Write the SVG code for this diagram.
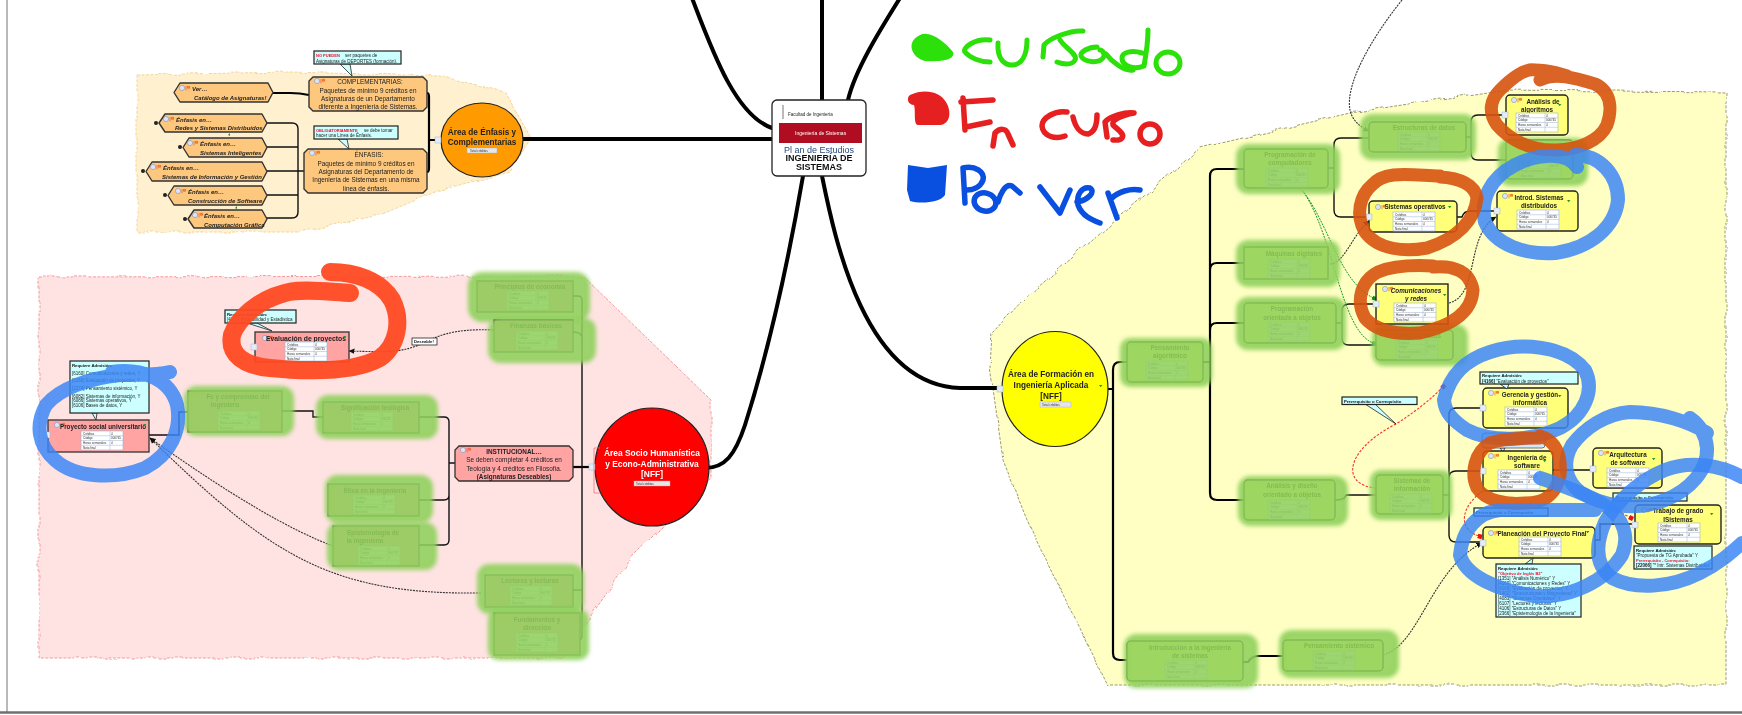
<svg xmlns="http://www.w3.org/2000/svg" width="1742" height="715" viewBox="0 0 1742 715">
<style>
text{font-family:"Liberation Sans","DejaVu Sans",sans-serif;fill:#222}
.n{font-size:6.4px;text-anchor:middle}
.nb{font-size:6.3px;font-weight:bold;text-anchor:middle;fill:#222}
.i{font-size:6px;font-style:italic;font-weight:bold}
.c{font-size:4.5px;fill:#222}
.cb{font-size:4.3px;font-weight:bold;fill:#111}
.r{font-size:4px;font-weight:bold;fill:#f01030}
.tt{font-size:3px;fill:#333}
.o{fill:#fdc77d;stroke:#333;stroke-width:1.4;stroke-linejoin:round}
.p{fill:#ffa3a3;stroke:#333;stroke-width:1.3}
.y{fill:#ffff7a;stroke:#222;stroke-width:1.4}
.co{fill:#ccffff;stroke:#222;stroke-width:1.2}
.g{fill:#8fd05c;fill-opacity:.88;stroke:#8fd05c;stroke-opacity:.88;stroke-width:4;filter:url(#soft)}
.h{fill:#e4ecf8;stroke:#9fb4d8;stroke-width:.5}
.ln{fill:none;stroke:#111;stroke-width:1.4;stroke-linecap:round}
.th{fill:none;stroke:#000;stroke-width:2.2}
.big{fill:none;stroke:#000;stroke-width:4;stroke-linecap:round}
.ds{fill:none;stroke:#333;stroke-width:1.1;stroke-dasharray:2 1}
.dg{fill:none;stroke:#1a9a30;stroke-width:1;stroke-dasharray:2 1}
.dr{fill:none;stroke:#f53030;stroke-width:1.1;stroke-dasharray:2.5 1.5}
.sb{fill:none;stroke:#3a86f5;stroke-width:14;stroke-linecap:round;stroke-linejoin:round;stroke-opacity:.84}
.so{fill:none;stroke:#d6530e;stroke-width:13;stroke-linecap:round;stroke-linejoin:round;stroke-opacity:.9}
.sr{fill:none;stroke:#ff4a22;stroke-width:18;stroke-linecap:round;stroke-linejoin:round;stroke-opacity:.95}
.wg{fill:none;stroke:#2ce00a;stroke-width:5;stroke-linecap:round;stroke-linejoin:round}
.wr{fill:none;stroke:#e62020;stroke-width:5.5;stroke-linecap:round;stroke-linejoin:round}
.wb{fill:none;stroke:#0a50e0;stroke-width:5.5;stroke-linecap:round;stroke-linejoin:round}
</style>
<defs>
<filter id="wavy" x="-5%" y="-5%" width="110%" height="110%"><feTurbulence type="fractalNoise" baseFrequency="0.07" numOctaves="1" seed="4"/><feDisplacementMap in="SourceGraphic" scale="6"/></filter>
<filter id="soft" x="-15%" y="-25%" width="130%" height="150%"><feGaussianBlur stdDeviation="2.2"/></filter>
<filter id="lite" x="-2%" y="-2%" width="104%" height="104%"><feGaussianBlur stdDeviation="0.3"/></filter>
<marker id="ab" markerWidth="6" markerHeight="6" refX="5" refY="3" orient="auto"><path d="M0,0.5L5.5,3L0,5.5z" fill="#111"/></marker>
<marker id="ag" markerWidth="5" markerHeight="5" refX="4" refY="2.5" orient="auto"><rect width="4" height="4" y="0.5" fill="#0a9020"/></marker>
<marker id="ar" markerWidth="5" markerHeight="5" refX="4" refY="2.5" orient="auto"><rect width="4" height="4" y="0.5" fill="#f01010"/></marker>
<g id="tbl"><rect width="42" height="19" fill="#fff" stroke="#9db2d0" stroke-width=".6"/><path d="M0,4.75H42M0,9.5H42M0,14.25H42M29,0V19" stroke="#9db2d0" stroke-width=".5"/><text class="tt" x="2" y="3.6">Créditos</text><text class="tt" x="2" y="8.4">Código</text><text class="tt" x="2" y="13.1">Horas semanales</text><text class="tt" x="2" y="17.9">Nota final</text><text class="tt" x="30" y="3.6">4</text><text class="tt" x="30" y="8.4">000745</text><text class="tt" x="30" y="13.1">4</text></g>
<g id="ic"><circle cx="3" cy="3" r="2.6" fill="#dde4f5" stroke="#8392b5" stroke-width=".6"/><path d="M7,1V5.4M8.4,1.4H10.6V3.2H8.4z" stroke="#e8442a" stroke-width=".6" fill="#f0a030"/></g>
<path id="tri" d="M0,0h3.4l-1.7,2.2z" fill="#1a9a30"/>
</defs>
<rect width="1742" height="715" fill="#fff"/>
<path d="M7,0V712" stroke="#8a8a8a" stroke-width="1.2"/>
<path d="M0,712.500H1742" stroke="#707070" stroke-width="2.400"/>

<g id="clouds">
<path filter="url(#wavy)" d="M137,75 L290,72 L440,76 L505,92 L531,138 L510,172 L440,190 L380,215 L300,232 L137,232Z" fill="#fff0cf" stroke="#f3d69a" stroke-width="1" stroke-dasharray="3 1.5"/>
<path filter="url(#wavy)" d="M39,277 L583,276 L711,400 L711,478 L633,556 L561,658 L39,658Z" fill="#ffe3e3" stroke="#f59a9a" stroke-width="1" stroke-dasharray="3 1.5"/>
<path filter="url(#wavy)" d="M1023,300 L1200,148 L1350,113 L1500,90 L1726,92 L1726,685 L1107,685 L1027,520 L1003,460 L990,367 L992,333Z" fill="#ffffc4" stroke="#9a9a70" stroke-width="1" stroke-dasharray="3 1.5"/>
</g>

<g id="connectors">
<path class="big" d="M692,-2C712,50 735,115 772,128"/>
<path class="big" d="M822,-2V100"/>
<path class="big" d="M900,-2C880,30 855,70 848,100"/>
<path class="big" d="M522,139H772"/>
<path class="big" d="M803,176C792,240 775,330 745,425C735,455 725,468 705,468"/>
<path class="big" d="M822,176C835,240 865,385 960,388H1002" stroke-width="3"/>
<path class="th" d="M427,93Q429,93 429,97V168Q429,172 427,172M429,140H441"/>
<path class="th" d="M273,93H290Q300,93 309,95"/>
<path class="ln" d="M267,123H292Q298,123 298,129V212Q298,218 292,218H267M267,147H298M267,171H304M267,195H298"/>
<path class="th" d="M573,467H582L595,467"/>
<path class="ln" d="M582,300Q582,296 578,296H573M582,300V636Q582,640 578,640H574M573,332Q582,332 582,338M573,590H582"/>
<path class="ln" d="M419,417H444Q449,417 449,422V540Q449,545 444,545H419M419,500H444Q449,500 449,495M449,463H455"/>
<path class="ln" d="M282,411H313V417H323M188,412H179V435H149"/>
<path class="th" d="M1108,389H1113M1113,370Q1113,362 1120,362H1127M1113,370V653Q1113,660 1120,660H1127"/>
<path class="th" d="M1203,362H1210M1210,176Q1210,169 1217,169H1244M1210,176V493Q1210,500 1217,500H1244M1210,270Q1210,263 1217,263H1244M1210,330Q1210,323 1217,323H1244"/>
<path class="ln" d="M1328,168H1334M1334,145Q1334,138 1341,138H1369M1334,145V210Q1334,217 1341,217H1369"/>
<path class="ln" d="M1336,323H1342M1342,311Q1342,304 1349,304H1376M1342,311V338Q1342,345 1349,345H1376"/>
<path class="ln" d="M1466,137H1471M1471,122Q1471,115 1478,115H1506M1471,122V153Q1471,160 1478,160H1506"/>
<path class="ln" d="M1457,217H1462Q1464,211 1470,211H1497"/>
<path class="ln" d="M1335,500Q1345,500 1346,495H1376"/>
<path class="ln" d="M1443,495H1449M1449,415Q1449,408 1456,408H1483M1449,415V535Q1449,542 1456,542H1483M1449,478Q1449,471 1456,471H1483"/>
<path class="ln" d="M1553,470H1593"/>
<path class="ln" d="M1595,540H1600V524H1635"/>
<path class="th" d="M1243,662H1248Q1252,656 1258,656H1283"/>
<path class="ds" marker-end="url(#ab)" d="M493,330C450,328 435,338 425,342C405,353 385,352 349,351"/>
<path class="ds" marker-end="url(#ab)" d="M333,546C290,530 230,495 150,438"/>
<path class="ds" marker-end="url(#ab)" d="M481,593C330,595 270,555 150,438"/>
<path class="ds" marker-end="url(#ab)" d="M1402,0C1370,40 1345,85 1350,110C1352,120 1360,127 1369,131"/>
<path class="ds" marker-end="url(#ab)" d="M1330,264C1345,263 1352,235 1369,221"/>
<path class="ds" marker-end="url(#ab)" d="M1449,303C1480,295 1465,235 1496,217"/>
<path class="ds" marker-end="url(#ab)" d="M1383,655C1420,645 1430,570 1482,543"/>
<path class="dg" marker-end="url(#ag)" d="M1302,190C1330,225 1340,285 1376,299"/>
<path class="dg" marker-end="url(#ag)" d="M1302,190C1335,235 1340,335 1376,344"/>
<path class="dr" marker-end="url(#ar)" d="M1376,488C1340,485 1345,450 1396,424C1415,412 1430,400 1445,385"/>
<path class="dr" marker-end="url(#ar)" d="M1483,491C1462,505 1455,530 1482,537"/>
<path class="dr" marker-end="url(#ar)" d="M1597,500L1633,519"/>
</g>

<g id="nodes" filter="url(#lite)">
<g id="n-centro"><rect x="772" y="100" width="94" height="76" rx="5" fill="#fff" stroke="#222" stroke-width="1.3"/><path d="M783,105v14" stroke="#777" stroke-width="1"/><text x="788" y="115.500" style="font-size:4.500px" fill="#333">Facultad de Ingeniería</text><rect x="779" y="123" width="83" height="20" fill="#b01020"/><text x="795" y="135" style="font-size:5px;fill:#fff">Ingeniería de Sistemas</text><text x="819" y="153" text-anchor="middle" style="font-size:9px;fill:#2a4a7a">Pl an de Estudios</text><text x="819" y="161" text-anchor="middle" style="font-size:9px;font-weight:bold;fill:#111">INGENIERÍA DE</text><text x="819" y="170" text-anchor="middle" style="font-size:9px;font-weight:bold;fill:#111">SISTEMAS</text></g>

<g id="n-complementarias"><polygon class="o" points="313,77 423,77 427,81 427,107 423,111 313,111 309,107 309,81"/><use href="#ic" x="314" y="78"/><text class="n"><tspan x="370" y="84">COMPLEMENTARIAS:</tspan><tspan x="368" y="92.500">Paquetes de mínimo 9 créditos en</tspan><tspan x="368" y="100.500">Asignaturas de un Departamento</tspan><tspan x="368" y="109">diferente a Ingeniería de Sistemas.</tspan></text></g>
<g id="n-nopueden"><polygon class="co" points="340,64 352,76 350,64" style="stroke-width:.8"/><rect class="co" x="314" y="51" width="87" height="13"/><text class="r" x="316" y="57">NO PUEDEN</text><text class="c" x="345" y="57">ser paquetes de</text><text class="c" x="316" y="62.500">Asignaturas de DEPORTES (formación).</text></g>
<g id="n-enfasis"><polygon class="o" points="308,149 423,149 427,153 427,189 423,193 308,193 304,189 304,153"/><use href="#ic" x="309" y="150"/><text class="n"><tspan x="369" y="157">ÉNFASIS:</tspan><tspan x="366" y="165.500">Paquetes de mínimo 9 créditos en</tspan><tspan x="366" y="174">Asignaturas del Departamento de</tspan><tspan x="366" y="182">Ingeniería de Sistemas en una misma</tspan><tspan x="366" y="190.500">línea de énfasis.</tspan></text></g>
<g id="n-oblig"><polygon class="co" points="338,139 349,149 347,139" style="stroke-width:.8"/><rect class="co" x="314" y="126" width="84" height="13"/><text class="r" x="316" y="131.500">OBLIGATORIAMENTE</text><text class="c" x="364" y="131.500">se debe tomar</text><text class="c" x="316" y="137">hacer una Línea de Énfasis.</text></g>
<g id="n-ver"><polygon class="o" points="174,92.500 180,83 268,83 273,92.500 268,102 180,102"/><use href="#ic" x="179" y="85"/><text class="i" x="192" y="90.500">Ver…</text><text class="i" x="194" y="99.500">Catálogo de Asignaturas!</text></g>
<g id="n-e1"><polygon class="o" points="159,123 165,114 262,114 267,123 262,132 165,132"/><use href="#ic" x="163" y="116"/><text class="i" x="176" y="122">Énfasis en…</text><text class="i" x="175" y="130">Redes y Sistemas Distribuidos</text></g>
<g id="n-e2"><polygon class="o" points="183,147.500 189,138 262,138 267,147.500 262,157 189,157"/><use href="#ic" x="187" y="140"/><text class="i" x="200" y="146">Énfasis en…</text><text class="i" x="200" y="155">Sistemas Inteligentes</text><path d="M228,135l2,-2v3z" fill="#1a9a30"/></g>
<g id="n-e3"><polygon class="o" points="146,171.500 152,162 262,162 267,171.500 262,181 152,181"/><use href="#ic" x="150" y="164"/><text class="i" x="163" y="170">Énfasis en…</text><text class="i" x="162" y="178.500">Sistemas de Información y Gestión</text></g>
<g id="n-e4"><polygon class="o" points="168,195.500 174,186 262,186 267,195.500 262,205 174,205"/><use href="#ic" x="175" y="188"/><text class="i" x="188" y="194">Énfasis en…</text><text class="i" x="188" y="202.500">Construcción de Software</text></g>
<g id="n-e5"><polygon class="o" points="188,219 194,210 262,210 267,219 262,228 194,228"/><use href="#ic" x="192" y="212"/><text class="i" x="204" y="218">Énfasis en…</text><text class="i" x="204" y="226.500">Computación Gráfica</text><path d="M235,208l2,-2v3z" fill="#1a9a30"/></g>
<g id="dots-e"><circle cx="156" cy="123" r="2" fill="#222"/><circle cx="180" cy="147" r="2" fill="#222"/><circle cx="143" cy="171" r="2" fill="#222"/><circle cx="165" cy="195" r="2" fill="#222"/><circle cx="185" cy="219" r="2" fill="#222"/></g>
<g id="n-area-enf"><ellipse cx="482" cy="140" rx="41" ry="37" fill="#ff9a00" stroke="#222" stroke-width="1.2"/><text class="nb" style="font-size:8.200px"><tspan x="482" y="135">Área de Énfasis y</tspan><tspan x="482" y="145">Complementarias</tspan></text><rect x="467" y="148" width="30" height="5" fill="#e6e6e6" stroke="#aaa" stroke-width=".4"/><text class="tt" x="470" y="152">Total créditos</text><rect class="h" x="435" y="137" width="6" height="6"/></g>

<g id="n-evaluacion"><rect class="p" x="255" y="332" width="94" height="30"/><use href="#ic" x="262" y="335"/><text class="nb" style="font-size:6.800px" x="306" y="340.500">Evaluación de proyectos</text><use href="#tbl" x="285" y="342"/><use href="#tri" x="343" y="336"/><rect class="h" x="251" y="344" width="6" height="6"/></g>
<g id="n-req-ev"><polygon class="co" points="247,323 272,331 257,323" style="stroke-width:.8"/><rect class="co" x="225" y="310" width="71" height="13"/><text class="cb" x="227" y="315.500">Requiere Admisión:</text><text class="c" x="227" y="321">[4101] Probabilidad y Estadística</text></g>
<g id="n-deseable"><rect x="412" y="338" width="25" height="7" fill="#fff" stroke="#222" stroke-width=".8"/><text class="cb" x="414" y="343.300" style="font-size:4.200px">Deseable!</text></g>
<g id="n-proyecto"><rect class="p" x="48" y="420" width="101" height="32"/><use href="#ic" x="54" y="422"/><text class="nb" x="103" y="428.500">Proyecto social universitario</text><use href="#tbl" x="81" y="431"/><use href="#tri" x="143" y="424"/><rect class="h" x="44" y="432" width="6" height="6"/></g>
<g id="n-req-pr"><polygon class="co" points="92,413 96,420 97,413" style="stroke-width:.8"/><rect class="co" x="70" y="361" width="79" height="52"/><text class="cb" x="72" y="367">Requiere Admisión:</text><text class="c"><tspan x="72" y="374.500">[6160] Comunicaciones y redes, Y</tspan><tspan x="72" y="382">[6160] Evaluación de proyectos, Y</tspan><tspan x="72" y="389.500">[2274] Pensamiento sistémico, Y</tspan><tspan x="72" y="397.500">[6082] Sistemas de información, Y</tspan><tspan x="72" y="402">[6086] Sistemas operativos, Y</tspan><tspan x="72" y="407">[6106] Bases de datos, Y</tspan></text></g>
<g id="n-inst"><polygon class="p" points="459,446 569,446 573,450 573,477 569,481 459,481 455,477 455,450"/><use href="#ic" x="460" y="447"/><text class="n"><tspan x="514" y="453.500" style="font-weight:bold">INSTITUCIONAL…</tspan><tspan x="514" y="462">Se deben completar 4 créditos en</tspan><tspan x="514" y="470.500">Teología y 4 créditos en Filosofía.</tspan><tspan x="514" y="478.500" style="font-weight:bold">(Asignaturas Deseables)</tspan></text></g>
<g id="n-area-soc"><ellipse cx="652" cy="467" rx="57" ry="59" fill="#ff0000" stroke="#222" stroke-width="1.2"/><text class="nb" style="font-size:8.400px;fill:#fff"><tspan x="652" y="456">Área Socio Humanística</tspan><tspan x="652" y="467">y Econo-Administrativa</tspan><tspan x="652" y="477">[NFF]</tspan></text><rect x="634" y="481" width="36" height="5" fill="#e6e6e6" stroke="#aaa" stroke-width=".4"/><text class="tt" x="636" y="485">Total créditos</text><rect class="h" x="589" y="464" width="6" height="6"/><path d="M600,448h-6v45h6" fill="none" stroke="#f06060" stroke-width=".7"/></g>

<g id="n-g1"><rect class="p" x="477" y="281" width="96" height="31"/><text class="nb" x="530" y="288.500">Principios de economía</text><use href="#tbl" x="507" y="291"/><rect class="g" x="470" y="274" width="118" height="46" rx="12"/></g>
<g id="n-g2"><rect class="p" x="494" y="320" width="79" height="32"/><text class="nb" x="536" y="328">Finanzas básicas</text><use href="#tbl" x="516" y="331"/><rect class="g" x="490" y="320" width="104" height="41" rx="10"/></g>
<g id="n-g3"><rect class="p" x="323" y="402" width="96" height="31"/><text class="nb" x="375" y="410">Significación teológica</text><use href="#tbl" x="351" y="412"/><rect class="g" x="318" y="397" width="118" height="40" rx="10"/></g>
<g id="n-g4"><rect class="p" x="328" y="484" width="91" height="32"/><text class="nb" x="375" y="493">Ética en la ingeniería</text><use href="#tbl" x="353" y="495"/><rect class="g" x="327" y="477" width="104" height="44" rx="10"/></g>
<g id="n-g5"><rect class="p" x="333" y="526" width="86" height="40"/><text class="nb"><tspan x="373" y="535">Epistemología de</tspan><tspan x="365" y="543">la ingeniería</tspan></text><use href="#tbl" x="358" y="546"/><rect class="g" x="329" y="524" width="106" height="44" rx="10"/></g>
<g id="n-g6"><rect class="p" x="485" y="575" width="88" height="32"/><text class="nb" x="530" y="583">Lectores y lecturas</text><use href="#tbl" x="510" y="586"/><rect class="g" x="479" y="566" width="103" height="46" rx="10"/></g>
<g id="n-g7"><rect class="p" x="494" y="613" width="86" height="42"/><text class="nb"><tspan x="537" y="622">Fundamentos y</tspan><tspan x="537" y="630">dirección</tspan></text><use href="#tbl" x="516" y="633"/><rect class="g" x="490" y="611" width="97" height="47" rx="8"/></g>
<g id="n-g8"><rect class="p" x="188" y="391" width="94" height="41"/><text class="nb"><tspan x="238" y="399">Fe y compromiso del</tspan><tspan x="225" y="407">ingeniero</tspan></text><use href="#tbl" x="218" y="411"/><rect class="g" x="186" y="388" width="106" height="46" rx="10"/></g>

<g id="n-area-ing"><ellipse cx="1055" cy="389" rx="53" ry="57.500" fill="#ffff00" stroke="#222" stroke-width="1.2"/><text class="nb" style="font-size:8.200px"><tspan x="1051" y="377">Área de Formación en</tspan><tspan x="1051" y="388">Ingeniería Aplicada</tspan><tspan x="1051" y="399">[NFF]</tspan></text><rect x="1040" y="402" width="31" height="5" fill="#e6e6e6" stroke="#aaa" stroke-width=".4"/><text class="tt" x="1042" y="406">Total créditos</text><rect class="h" x="997" y="386" width="6" height="6"/><use href="#tri" x="1099" y="385"/></g>

<g id="n-y1"><rect class="y" x="1127" y="342" width="76" height="40" rx="4"/><text class="nb"><tspan x="1170" y="350">Pensamiento</tspan><tspan x="1170" y="358">algorítmico</tspan></text><use href="#tbl" x="1146" y="361"/><rect class="g" x="1122" y="340" width="88" height="45" rx="8"/></g>
<g id="n-y2"><rect class="y" x="1244" y="149" width="84" height="39" rx="4"/><text class="nb"><tspan x="1290" y="157">Programación de</tspan><tspan x="1290" y="165">computadores</tspan></text><use href="#tbl" x="1266" y="168"/><rect class="g" x="1238" y="146" width="100" height="46" rx="10"/></g>
<g id="n-y3"><rect class="y" x="1244" y="247" width="84" height="32"/><text class="nb" x="1294" y="256">Máquinas digitales</text><use href="#tbl" x="1268" y="259"/><rect class="g" x="1238" y="242" width="100" height="43" rx="10"/></g>
<g id="n-y4"><rect class="y" x="1244" y="303" width="92" height="40" rx="4"/><text class="nb"><tspan x="1292" y="311">Programación</tspan><tspan x="1292" y="320">orientada a objetos</tspan></text><use href="#tbl" x="1268" y="322"/><rect class="g" x="1238" y="299" width="106" height="49" rx="10"/></g>
<g id="n-y5"><rect class="y" x="1244" y="480" width="91" height="40" rx="4"/><text class="nb"><tspan x="1292" y="488">Análisis y diseño</tspan><tspan x="1292" y="497">orientado a objetos</tspan></text><use href="#tbl" x="1268" y="500"/><rect class="g" x="1240" y="478" width="106" height="46" rx="10"/></g>
<g id="n-y6"><rect class="y" x="1376" y="475" width="67" height="39" rx="4"/><text class="nb"><tspan x="1412" y="483">Sistemas de</tspan><tspan x="1412" y="491">información</tspan></text><use href="#tbl" x="1390" y="494"/><rect class="g" x="1372" y="472" width="78" height="46" rx="8"/></g>
<g id="n-y7"><rect class="y" x="1369" y="122" width="97" height="30" rx="4"/><text class="nb" x="1424" y="130">Estructuras de datos</text><use href="#tbl" x="1398" y="132"/><rect class="g" x="1362" y="116" width="112" height="42" rx="10"/></g>
<g id="n-y8"><rect class="y" x="1376" y="330" width="77" height="30" rx="4"/><text class="nb" x="1418" y="338">Bases de datos</text><use href="#tbl" x="1396" y="340"/><rect class="g" x="1374" y="326" width="92" height="38" rx="10"/></g>
<g id="n-y9"><rect class="y" x="1506" y="140" width="67" height="39" rx="4"/><use href="#tbl" x="1519" y="159"/><rect class="g" x="1500" y="140" width="86" height="44" rx="10"/></g>
<g id="n-y10"><rect class="y" x="1127" y="641" width="116" height="40" rx="4"/><text class="nb"><tspan x="1190" y="650">Introducción a la ingeniería</tspan><tspan x="1190" y="658">de sistemas</tspan></text><use href="#tbl" x="1165" y="660"/><rect class="g" x="1126" y="636" width="130" height="50" rx="10"/></g>
<g id="n-y11"><rect class="y" x="1283" y="640" width="100" height="31" rx="4"/><text class="nb" x="1339" y="648">Pensamiento sistémico</text><use href="#tbl" x="1313" y="651"/><rect class="g" x="1281" y="632" width="116" height="44" rx="10"/></g>

<g id="n-so"><rect class="y" x="1369" y="201" width="88" height="31" rx="4"/><use href="#ic" x="1375" y="204"/><text class="nb" x="1415" y="209">Sistemas operativos</text><use href="#tbl" x="1393" y="212"/><use href="#tri" x="1448" y="206"/><rect class="h" x="1366" y="214" width="6" height="6"/></g>
<g id="n-cr"><rect class="y" x="1376" y="284" width="72" height="40"/><use href="#ic" x="1382" y="286"/><text class="nb" style="font-style:italic"><tspan x="1416" y="292.500">Comunicaciones</tspan><tspan x="1416" y="301">y redes</tspan></text><use href="#tbl" x="1394" y="303"/><use href="#tri" x="1443" y="294"/><rect class="h" x="1373" y="301" width="6" height="6"/></g>
<g id="n-aa"><rect class="y" x="1506" y="95" width="62" height="40" rx="4"/><use href="#ic" x="1511" y="97"/><text class="nb"><tspan x="1543" y="103.500">Análisis de</tspan><tspan x="1537" y="111.500">algoritmos</tspan></text><use href="#tbl" x="1516" y="113"/><use href="#tri" x="1558" y="104"/><rect class="h" x="1502" y="112" width="6" height="6"/></g>
<g id="n-isd"><rect class="y" x="1497" y="191" width="81" height="40" rx="4"/><use href="#ic" x="1502" y="193"/><text class="nb"><tspan x="1539" y="199.500">Introd. Sistemas</tspan><tspan x="1539" y="208">distribuidos</tspan></text><use href="#tbl" x="1517" y="210"/><use href="#tri" x="1567" y="200"/><rect class="h" x="1494" y="208" width="6" height="6"/></g>
<g id="n-ger"><rect class="y" x="1483" y="388" width="85" height="40" rx="4"/><use href="#ic" x="1488" y="390"/><text class="nb"><tspan x="1530" y="396.500">Gerencia y gestión</tspan><tspan x="1530" y="405">informática</tspan></text><use href="#tbl" x="1505" y="407"/><use href="#tri" x="1558" y="395"/><rect class="h" x="1480" y="405" width="6" height="6"/></g>
<g id="n-req-ger"><polygon class="co" points="1500,384 1507,389 1509,384" style="stroke-width:.8"/><rect class="co" x="1480" y="372" width="98" height="12"/><text class="cb" x="1482" y="377">Requiere Admisión:</text><text class="c" x="1482" y="382.500"><tspan font-weight="bold">[4166]</tspan> "Evaluación de proyectos"</text></g>
<g id="n-pc1"><polygon class="co" points="1365,404 1396,424 1375,404" style="stroke-width:.8"/><rect class="co" x="1342" y="397" width="75" height="7.500"/><text class="cb" x="1344" y="403">Prerrequisito o Correquisito</text></g>
<g id="n-is"><polygon class="co" points="1500,448 1503,452 1505,448" style="stroke-width:.8"/><rect x="1482" y="433" width="63" height="15" rx="3" fill="#cce9ff" stroke="#556" stroke-width=".8"/><text class="cb" x="1486" y="441">Prerrequisito</text><rect class="y" x="1483" y="451" width="70" height="40" rx="4"/><use href="#ic" x="1488" y="453"/><text class="nb"><tspan x="1527" y="459.500">Ingeniería de</tspan><tspan x="1527" y="468">software</tspan></text><use href="#tbl" x="1498" y="470"/><use href="#tri" x="1543" y="460"/><rect class="h" x="1480" y="468" width="6" height="6"/></g>
<g id="n-arq"><rect class="y" x="1593" y="448" width="69" height="40" rx="4"/><use href="#ic" x="1598" y="450"/><text class="nb"><tspan x="1628" y="456.500">Arquitectura</tspan><tspan x="1628" y="465">de software</tspan></text><use href="#tbl" x="1607" y="468"/><use href="#tri" x="1652" y="458"/><rect class="h" x="1590" y="466" width="6" height="6"/></g>
<g id="n-pc2"><rect class="co" x="1613" y="493" width="74" height="8"/><text class="cb" x="1616" y="499">Prerrequisito o Correquisito</text></g>
<g id="n-pc3"><rect class="co" x="1474" y="508" width="74" height="8"/><text class="cb" x="1476" y="514">Prerrequisito o Correquisito</text></g>
<g id="n-plan"><rect class="y" x="1483" y="527" width="112" height="31" rx="4"/><use href="#ic" x="1488" y="530"/><text class="nb" x="1542" y="535.500">Planeación del Proyecto Final</text><use href="#tbl" x="1519" y="537"/><use href="#tri" x="1586" y="531"/><rect class="h" x="1480" y="540" width="6" height="6"/></g>
<g id="n-req-pl"><polygon class="co" points="1525,564 1533,558 1532,564" style="stroke-width:.8"/><rect class="co" x="1496" y="564" width="85" height="53"/><text class="cb" x="1498" y="570">Requiere Admisión:</text><text class="r" x="1498" y="575">"Objetivo de Inglés B2"</text><text class="c"><tspan x="1498" y="580">[1351] "Análisis Numérico"  Y</tspan><tspan x="1498" y="585">[4160] "Comunicaciones y Redes"  Y</tspan><tspan x="1498" y="590">[4166] "Evaluación de proyectos"  Y</tspan><tspan x="1498" y="595">[1402] "Sinestructuras y Magnetismo"  Y</tspan><tspan x="1498" y="600">[4083] "Sistemas Operativos"  Y</tspan><tspan x="1498" y="605">[6107] "Lectores y lecturas"  Y</tspan><tspan x="1498" y="610">[4106] "Estructuras de Datos"  Y</tspan><tspan x="1498" y="615">[2366] "Epistemología de la Ingeniería"</tspan></text></g>
<g id="n-tg"><rect class="y" x="1635" y="505" width="86" height="39" rx="4"/><use href="#ic" x="1641" y="507"/><text class="nb"><tspan x="1678" y="513">Trabajo de grado</tspan><tspan x="1678" y="522">ISistemas</tspan></text><use href="#tbl" x="1658" y="523"/><use href="#tri" x="1710" y="513"/><rect class="h" x="1632" y="522" width="6" height="6"/></g>
<g id="n-req-tg"><rect class="co" x="1634" y="546" width="78" height="23"/><text class="cb" x="1636" y="552">Requiere Admisión:</text><text class="c" x="1636" y="557">"Propuesta de TG Aprobada"   Y</text><text class="r" x="1636" y="562">Prerrequisito - Correquisito:</text><text class="c" x="1636" y="567"><tspan font-weight="bold">[22066]</tspan> "* Intr. Sistemas Distribuidos"</text></g>
</g>

<g id="scribbles">
<path class="sr" d="M350,293C330,292 300,288 285,293C258,300 238,318 232,335C228,355 245,366 270,368C310,372 355,372 380,358C398,345 402,320 392,300C380,280 355,272 330,272"/>
<path class="sb" d="M112,372C140,368 170,378 177,405C182,430 170,455 145,468C115,480 75,478 55,460C38,445 35,425 46,405C60,388 90,378 120,375C140,374 155,376 170,372"/>
<path class="so" d="M1540,80C1555,72 1575,78 1595,84C1612,92 1612,110 1607,125C1600,140 1580,150 1553,150C1530,150 1510,140 1497,125C1488,112 1490,100 1500,90C1512,78 1525,68 1535,70C1545,70 1555,72 1567,76"/>
<path class="sb" d="M1577,167C1565,150 1535,155 1515,165C1490,178 1480,200 1485,222C1495,245 1525,255 1555,253C1590,248 1615,228 1618,200C1618,175 1600,155 1575,155"/>
<path class="so" d="M1440,177C1460,178 1475,185 1477,198C1475,220 1458,238 1427,248C1405,252 1378,250 1365,232C1355,215 1360,195 1372,185C1385,170 1410,175 1440,176"/>
<path class="so" d="M1433,267C1455,265 1470,272 1473,290C1472,310 1455,325 1420,333C1395,335 1375,330 1365,318C1355,300 1362,280 1378,272C1395,265 1415,265 1433,266"/>
<path class="sb" d="M1444,400C1450,375 1465,360 1490,352C1520,342 1565,345 1585,370C1595,390 1585,415 1560,428C1530,442 1490,442 1467,430C1452,420 1445,412 1444,400"/>
<path class="sb" d="M1707,433C1690,422 1660,412 1630,412C1605,414 1585,428 1572,445C1562,462 1565,480 1580,492C1600,505 1635,512 1665,500C1690,490 1708,470 1707,448C1706,435 1700,425 1690,418"/>
<path class="so" d="M1540,436C1555,440 1562,455 1560,475C1556,495 1545,503 1525,503C1505,505 1485,500 1477,488C1470,472 1475,452 1490,443C1505,438 1525,438 1540,438"/>
<path class="sb" d="M1595,510H1500C1478,512 1462,530 1460,555C1465,575 1495,590 1535,596C1570,598 1605,582 1622,555C1632,530 1618,510 1590,497C1570,488 1555,483 1540,478"/>
<path class="sb" d="M1742,477C1720,465 1690,460 1665,470C1640,480 1618,500 1605,522C1595,545 1595,565 1612,578C1635,590 1670,588 1700,573C1720,563 1732,552 1742,543"/>
</g>

<g id="leyenda">
<path d="M920,35C930,30 945,42 953,52C956,60 940,62 925,61C912,58 905,42 920,35Z" fill="#2ce00a"/>
<path class="wg" d="M990,40C975,38 962,48 965,52C970,58 980,62 990,62"/>
<path class="wg" d="M998,43C997,60 1005,65 1012,65C1022,65 1027,55 1027,40"/>
<path class="wg" d="M1043,57L1044,45C1050,38 1070,30 1083,31M1060,40C1065,48 1078,54 1075,60C1072,66 1062,64 1057,62"/>
<path class="wg" d="M1097,47C1088,47 1080,52 1081,56C1084,62 1098,64 1103,58C1106,54 1102,50 1100,50M1106,54C1112,62 1125,72 1133,70"/>
<path class="wg" d="M1148,30C1148,42 1146,55 1144,66C1134,70 1122,66 1122,58C1122,52 1132,50 1142,53"/>
<ellipse class="wg" cx="1168" cy="63" rx="12" ry="11"/>
<path d="M910,95C925,88 940,92 946,102C952,112 950,124 940,125H918C913,124 916,112 914,105C908,105 906,98 910,95Z" fill="#e62020"/>
<path class="wr" d="M963,98L965,130M961,102L993,100M966,127L990,122M993,146L995,133C1000,128 1006,128 1008,134L1013,145"/>
<path class="wr" d="M1067,112C1055,110 1042,118 1042,126C1043,136 1055,140 1065,136"/>
<path class="wr" d="M1073,117C1075,126 1080,134 1088,134C1095,132 1097,124 1097,115"/>
<path class="wr" d="M1107,137L1105,122C1110,116 1125,112 1134,113C1122,115 1111,120 1113,125C1118,130 1125,134 1122,138C1120,141 1115,140 1113,140"/>
<ellipse class="wr" cx="1150" cy="134" rx="10" ry="10"/>
<path d="M908,165L928,168L947,165L945,195C940,203 920,204 910,201L907,190Z" fill="#0a50e0"/>
<path class="wb" d="M963,168L965,203M963,168C975,165 985,172 983,180C980,188 972,190 967,190"/>
<ellipse class="wb" cx="985" cy="202" rx="11" ry="9" transform="rotate(15 985 202)"/>
<path class="wb" d="M998,202C1000,195 1005,183 1012,186L1020,193"/>
<path class="wb" d="M1040,187L1060,213L1070,190"/>
<path class="wb" d="M1077,202C1088,200 1096,192 1090,188C1082,186 1076,195 1078,205C1082,216 1092,220 1100,223"/>
<path class="wb" d="M1108,193L1117,218M1112,198C1118,192 1130,188 1140,190"/>
</g>
</svg>
